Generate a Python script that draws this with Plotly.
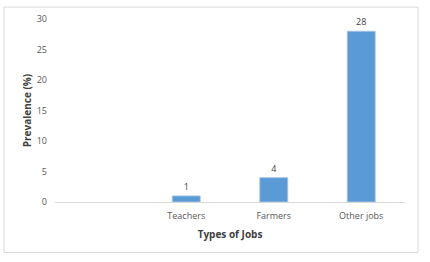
import plotly.graph_objects as go

categories = [" ", "Teachers", "Farmers", "Other jobs"]
prevalence = [None, 1, 4, 28]
labels = ["", "1", "4", "28"]
y_ticks = [0, 5, 10, 15, 20, 25, 30]

font_fam = "Open Sans, Liberation Sans, sans-serif"

fig = go.Figure(go.Bar(
    x=categories, y=prevalence, text=labels, textposition="outside",
    textfont=dict(size=9, color="#404040", family=font_fam),
    marker=dict(color="#5b9bd5", line=dict(color="#a9c8e8", width=0.8)),
    cliponaxis=False,
))

fig.update_layout(
    width=430, height=262,
    margin=dict(l=55, r=25, t=17, b=60),
    paper_bgcolor="white", plot_bgcolor="white",
    bargap=0.68, showlegend=False,
    font=dict(family=font_fam, size=9, color="#595959"),
    shapes=[dict(type="rect", xref="paper", yref="paper",
                 x0=-51/350, x1=363/350, y0=-51/185, y1=197/185,
                 line=dict(color="#d9d9d9", width=1))],
)
fig.update_xaxes(
    type="category", categoryorder="array", categoryarray=categories,
    showline=True, linecolor="#d9d9d9", linewidth=1, showgrid=False,
    ticks="", tickfont=dict(size=9, color="#595959"), ticklabelstandoff=5,
    title=dict(text="<b>Types of Jobs</b>", font=dict(size=10, color="#404040"), standoff=10),
)
fig.update_yaxes(
    range=[0, 30], tickvals=y_ticks, showgrid=False, showline=False, zeroline=False,
    tickfont=dict(size=9, color="#595959"), ticks="", ticklabelstandoff=7,
    title=dict(text="<b>Prevalence (%)</b>", font=dict(size=10, color="#404040"), standoff=3),
)

fig.write_html("out.html")
